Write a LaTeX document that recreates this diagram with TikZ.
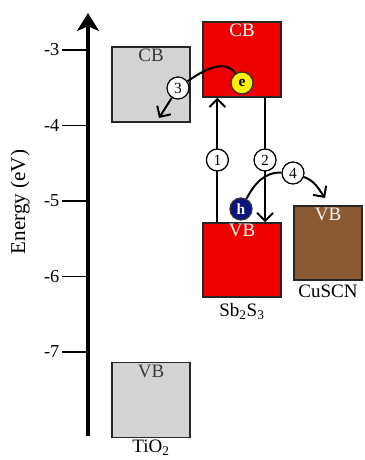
\documentclass[tikz,border=0pt]{standalone}
\usepackage{fontspec}
\setmainfont{Liberation Serif}
\usetikzlibrary{
  arrows.meta,
  calc,
  positioning
}
\definecolor{bandRed}{HTML}{EE0000}
\definecolor{bandGray}{HTML}{D3D3D3}
\definecolor{bandBrown}{HTML}{8C5A32}
\definecolor{holeBlue}{HTML}{0B1580}
\definecolor{elecYellow}{HTML}{FFF200}
\definecolor{bandInk}{HTML}{3A3A3A}
\tikzset{
  bandBox/.style={
    draw=black!85,
    line width=1pt,
    minimum width=1.95cm,
    minimum height=1.875cm,
    inner sep=0pt
  },
  bandName/.style={
    font=\fontsize{13.5}{15}\selectfont,
    anchor=north,
    inner sep=1pt
  },
  materialName/.style={
    font=\fontsize{13.5}{15}\selectfont,
    anchor=north,
    inner sep=1pt
  },
  energyAxis/.style={line width=2.2pt, -{Stealth[length=4.5mm, width=5.5mm, inset=1.2mm]}},
  tickLine/.style={line width=1.3pt},
  tickLabel/.style={font=\fontsize{13}{15}\selectfont, anchor=east, inner sep=1pt},
  transArrow/.style={line width=1.4pt, -{Straight Barb[length=2mm, width=4mm, line width=1.4pt]}},
  transLine/.style={line width=1.4pt},
  stepNum/.style={
    circle,
    draw,
    fill=white,
    line width=0.9pt,
    minimum size=0.55cm,
    inner sep=0pt,
    font=\fontsize{11}{12}\selectfont
  },
  carrierDot/.style={
    circle,
    draw=black!80,
    line width=0.9pt,
    minimum size=0.55cm,
    inner sep=0pt,
    font=\bfseries\fontsize{11}{12}\selectfont
  }
}

\begin{document}
\begin{tikzpicture}[x=0.025cm,y=0.025cm]
  \useasboundingbox (0,0) rectangle (365,460);

  % energy axis
  \coordinate (axisBot) at (88,24);
  \coordinate (axisTop) at (88,447);
  \draw[energyAxis] (axisBot) -- (axisTop);
  \foreach \e [count=\i from 0] in {-3,-4,-5,-6,-7} {
    \draw[tickLine] (62,410-75.5*\i) -- (88,410-75.5*\i);
    \node[tickLabel] at (61,410-75.5*\i) {\e};
  }
  \node[rotate=90, font=\fontsize{15}{17}\selectfont] (energyLabel) at (20,258) {Energy (eV)};

  % TiO2
  \node[bandBox, fill=bandGray] (tioCB) at (151,375.5) {};
  \node[bandName, text=bandInk, below=1pt of tioCB.north] (tioCBname) {CB};
  \node[bandBox, fill=bandGray] (tioVB) at (151,60) {};
  \node[bandName, text=bandInk, below=1pt of tioVB.north] (tioVBname) {VB};
  \node[materialName, inner sep=0pt, below=1pt of tioVB.south] (tioName) {TiO\textsubscript{2}};

  % Sb2S3
  \node[bandBox, fill=bandRed] (sbCB) at (242,400.5) {};
  \node[bandName, text=white, below=1pt of sbCB.north] (sbCBname) {CB};
  \node[bandBox, fill=bandRed, minimum height=1.85cm] (sbVB) at (242,200) {};
  \node[bandName, text=white, below=0pt of sbVB.north] (sbVBname) {VB};
  \node[materialName, below=3pt of sbVB.south] (sbName) {Sb\textsubscript{2}S\textsubscript{3}};

  % CuSCN
  \node[bandBox, fill=bandBrown, minimum width=1.7cm, minimum height=1.85cm] (cuVB) at (328,217) {};
  \node[bandName, text=white!92!bandBrown, below=1pt of cuVB.north] (cuVBname) {VB};
  \node[materialName, below=2pt of cuVB.south] (cuName) {CuSCN};

  % carriers
  \node[carrierDot, fill=elecYellow] (eDot) at (242,377) {e};
  \node[carrierDot, fill=holeBlue, text=white] (hDot) at (241,251) {h};

  % excitation and recombination
  \coordinate (upFrom) at ($(sbVB.north west)!0.19!(sbVB.north east)$);
  \coordinate (upTo) at ($(sbCB.south west)!0.19!(sbCB.south east)$);
  \coordinate (downFrom) at ($(sbCB.south west)!0.79!(sbCB.south east)$);
  \coordinate (downTo) at ($(sbVB.north west)!0.79!(sbVB.north east)$);
  \draw[transArrow] (upFrom) -- node[stepNum] (num1) {1} (upTo);
  \draw[transArrow] (downFrom) -- node[stepNum] (num2) {2} (downTo);

  % electron injection
  \node[stepNum] (num3) at (178,372) {3};
  \coordinate (tip3) at (159,342);
  \draw[transLine] (eDot) to[out=125, in=35] (num3);
  \draw[transArrow] (num3) -- (tip3);

  % hole transfer
  \node[stepNum] (num4) at (293,287) {4};
  \coordinate (tip4) at (325,262);
  \draw[transLine] (hDot) to[out=62, in=178] (num4);
  \draw[transArrow] (num4) to[out=-20, in=125] (tip4);
\end{tikzpicture}
\end{document}
